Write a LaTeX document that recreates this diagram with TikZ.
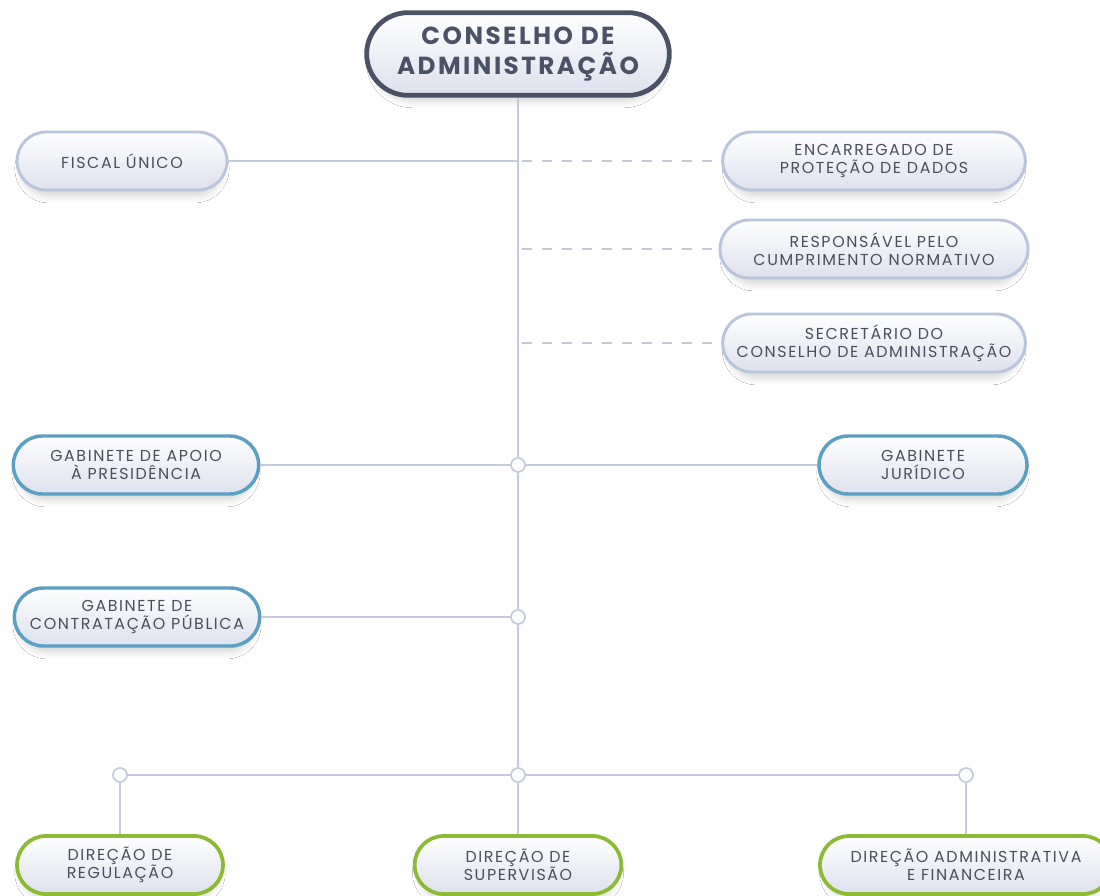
\documentclass[tikz,border=0pt]{standalone}
\usepackage{fontspec}
\setmainfont{Poppins}[LetterSpace=10]
\newfontfamily\titlefont{Poppins}[LetterSpace=10]
\usetikzlibrary{shadows.blur}
\definecolor{darkB}{HTML}{4B5266}
\definecolor{cardB}{HTML}{B9C5DD}
\definecolor{blueB}{HTML}{5B9FC2}
\definecolor{greenB}{HTML}{8CBA34}
\definecolor{lineC}{HTML}{C3CADC}
\definecolor{txt}{HTML}{4A4F5C}
\definecolor{cardF}{HTML}{DDE1ED}
\tikzset{
  card/.style={draw=cardB, line width=2.2pt, rounded corners=21.75pt,
    minimum height=43.5pt, top color=white, bottom color=cardF, text=txt,
    font=\fontsize{11.9}{13.6}\selectfont, align=center, inner sep=0pt,
    blur shadow={shadow xshift=0pt, shadow yshift=-6pt, shadow scale=0.96, shadow opacity=16, shadow blur radius=5pt, shadow blur steps=10}},
  bluecard/.style={card, draw=blueB, line width=2.6pt},
  greencard/.style={card, draw=greenB, line width=2.8pt},
  topcard/.style={card, draw=darkB, line width=3.6pt, rounded corners=31pt,
    minimum height=62pt, text=darkB, font=\titlefont\fontsize{18.5}{22.5}\selectfont\bfseries},
  conn/.style={draw=lineC, line width=1.4pt},
  dconn/.style={conn, dash pattern=on 7.5pt off 7.5pt},
  junc/.style={circle, draw=lineC, fill=white, line width=1.3pt, minimum size=10.5pt, inner sep=0pt}
}
\begin{document}
\begin{tikzpicture}[x=0.75pt,y=-0.75pt]
\useasboundingbox[fill=white] (0,0) rectangle (1100,896);
\clip (0,0) rectangle (1100,896);
% nodes
\node[topcard, minimum width=227pt] (top) at (518,54) {CONSELHO DE\\ADMINISTRAÇÃO};
\node[card, minimum width=157.5pt] (fiscal) at (122,161) {FISCAL ÚNICO};
\node[card, minimum width=227pt] (enc) at (874,161) {ENCARREGADO DE\\PROTEÇÃO DE DADOS};
\node[card, minimum width=231pt] (resp) at (874,249) {RESPONSÁVEL PELO\\CUMPRIMENTO NORMATIVO};
\node[card, minimum width=227pt] (sec) at (874,343) {SECRETÁRIO DO\\CONSELHO DE ADMINISTRAÇÃO};
\node[bluecard, minimum width=184pt] (apoio) at (136,465) {GABINETE DE APOIO\\À PRESIDÊNCIA};
\node[bluecard, minimum width=156pt] (jur) at (923,465) {GABINETE\\JURÍDICO};
\node[bluecard, minimum width=184pt] (contr) at (137,617) {GABINETE DE\\CONTRATAÇÃO PÚBLICA};
\node[greencard, minimum width=154.5pt] (reg) at (120,865) {DIREÇÃO DE\\REGULAÇÃO};
\node[greencard, minimum width=155pt] (sup) at (518,865) {DIREÇÃO DE\\SUPERVISÃO};
\node[greencard, minimum width=219pt] (adm) at (966,865) {DIREÇÃO ADMINISTRATIVA\\E FINANCEIRA};
% junctions
\node[junc] (j1) at (518,465) {};
\node[junc] (j2) at (518,617) {};
\node[junc] (j3) at (518,775) {};
\node[junc] (jl) at (120,775) {};
\node[junc] (jr) at (966,775) {};
\coordinate (m1) at (518,161);
\coordinate (m2) at (522,249);
\coordinate (m3) at (522,343);
\coordinate (m0) at (522,161);
% connectors
\draw[conn] (top.south) -- (j1.north);
\draw[conn] (j1.south) -- (j2.north);
\draw[conn] (j2.south) -- (j3.north);
\draw[conn] (j3.south) -- (sup.north);
\draw[conn] (fiscal.east) -- (m1);
\draw[dconn] (m0) -- (enc.west);
\draw[dconn] (m2) -- (resp.west);
\draw[dconn] (m3) -- (sec.west);
\draw[conn] (apoio.east) -- (j1.west);
\draw[conn] (j1.east) -- (jur.west);
\draw[conn] (contr.east) -- (j2.west);
\draw[conn] (jl.east) -- (j3.west);
\draw[conn] (j3.east) -- (jr.west);
\draw[conn] (jl.south) -- (reg.north);
\draw[conn] (jr.south) -- (adm.north);
\end{tikzpicture}
\end{document}
